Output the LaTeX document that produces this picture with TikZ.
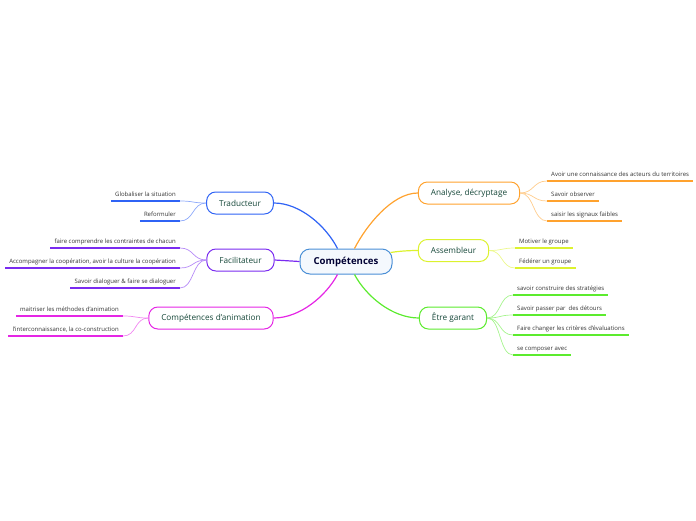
\documentclass[tikz,border=0pt]{standalone}
\usepackage{fontspec}
\setmainfont{Open Sans}
\usetikzlibrary{positioning}

\definecolor{trad}{HTML}{2F63F5}
\definecolor{faci}{HTML}{7A2BF0}
\definecolor{anim}{HTML}{E526E5}
\definecolor{anal}{HTML}{FFA22E}
\definecolor{asse}{HTML}{DCF22E}
\definecolor{gara}{HTML}{5CEB2E}
\definecolor{topic}{HTML}{4A8FD6}
\definecolor{subtxt}{HTML}{17483A}
\definecolor{leaftxt}{HTML}{333333}

\begin{document}
\begin{tikzpicture}[x=1pt, y=-1pt,
    centre/.style={draw=topic, line width=1pt, rounded corners=10pt, fill=topic!6,
      minimum width=92pt, minimum height=25pt, font=\fontsize{9.6}{10}\selectfont\bfseries, text=blue!20!black},
    sub/.style={draw=#1, line width=1pt, rounded corners=9pt, fill=white,
      minimum height=22pt, inner xsep=12.5pt, font=\fontsize{8.2}{9}\selectfont, text=subtxt},
    leaf/.style={inner xsep=4pt, inner ysep=3pt, text height=4.4pt, text depth=1.4pt,
      font=\fontsize{6}{7}\selectfont, text=leaftxt},
    uline/.style={draw=#1, line width=1.6pt},
    branch/.style={draw=#1, line width=1.2pt},
    twig/.style={draw=#1!55, line width=0.7pt}]
    \useasboundingbox (0,0) rectangle (696,520);

    % centre
    \node[centre] (comp) at (346,261.5) {Compétences};

    % branches gauche
    \node[sub=trad] (trad) at (240,203) {Traducteur};
    \node[sub=faci] (faci) at (240.5,260) {Facilitateur};
    \node[sub=anim] (anim) at (211,318) {Compétences d'animation};

    % branches droite
    \node[sub=anal] (anal) at (469,193) {Analyse, décryptage};
    \node[sub=asse] (asse) at (453.5,250.5) {Assembleur};
    \node[sub=gara] (gara) at (453,318) {Être garant};

    % feuilles Traducteur
    \node[leaf, anchor=south east] (t1) at (180,201) {Globaliser la situation};
    \node[leaf, anchor=south east] (t2) at (180,221) {Reformuler};
    % feuilles Facilitateur
    \node[leaf, anchor=south east] (f1) at (180,248) {faire comprendre les contraintes de chacun};
    \node[leaf, anchor=south east] (f2) at (180,268) {Accompagner la coopération, avoir la culture la coopération};
    \node[leaf, anchor=south east] (f3) at (180,288) {Savoir dialoguer \& faire se dialoguer};
    % feuilles animation
    \node[leaf, anchor=south east] (a1) at (123,316) {maitriser les méthodes d'animation};
    \node[leaf, anchor=south east] (a2) at (123,336) {l'interconnaissance, la co-construction};

    % feuilles Analyse
    \node[leaf, anchor=south west] (n1) at (547,181) {Avoir une connaissance des acteurs du territoires};
    \node[leaf, anchor=south west] (n2) at (547,201) {Savoir observer};
    \node[leaf, anchor=south west] (n3) at (547,221) {saisir les signaux faibles};
    % feuilles Assembleur
    \node[leaf, anchor=south west] (s1) at (515,248) {Motiver le groupe};
    \node[leaf, anchor=south west] (s2) at (515,268) {Fédérer un groupe};
    % feuilles Etre garant
    \node[leaf, anchor=south west] (g1) at (513,295) {savoir construire des stratégies};
    \node[leaf, anchor=south west] (g2) at (513,315) {Savoir passer par~ des détours};
    \node[leaf, anchor=south west] (g3) at (513,335) {Faire changer les critères d'évaluations};
    \node[leaf, anchor=south west] (g4) at (513,355) {se composer avec};

    % soulignements
    \foreach \n/\c in {t1/trad,t2/trad,f1/faci,f2/faci,f3/faci,a1/anim,a2/anim,
        n1/anal,n2/anal,n3/anal,s1/asse,s2/asse,g1/gara,g2/gara,g3/gara,g4/gara}
      \draw[uline=\c] (\n.south west) -- (\n.south east);

    % branches principales
    \draw[branch=trad] (comp.north west) ++(38,0) coordinate (ct)
      .. controls (326,226) and (300,203) .. (trad.east);
    \draw[branch=faci] (comp.west) -- (faci.east);
    \draw[branch=anim] (comp.south west) ++(38,0) coordinate (ca)
      .. controls (326,296) and (300,318) .. (anim.east);
    \draw[branch=anal] (comp.north east) ++(-38,0) coordinate (cn)
      .. controls (366,226) and (392,193) .. (anal.west);
    \draw[branch=asse] (comp.east) ++(-2,-9) coordinate (cs)
      .. controls (400,251) and (410,250.5) .. (asse.west);
    \draw[branch=gara] (comp.south east) ++(-38,0) coordinate (cg)
      .. controls (366,296) and (392,318) .. (gara.west);

    % rameaux
    \foreach \n in {t1,t2}
      \draw[twig=trad] (trad.west) .. controls +(-14,0) and +(14,0) .. (\n.south east);
    \foreach \n in {f1,f2,f3}
      \draw[twig=faci] (faci.west) .. controls +(-14,0) and +(14,0) .. (\n.south east);
    \foreach \n in {a1,a2}
      \draw[twig=anim] (anim.west) .. controls +(-14,0) and +(14,0) .. (\n.south east);
    \foreach \n in {n1,n2,n3}
      \draw[twig=anal] (anal.east) .. controls +(14,0) and +(-14,0) .. (\n.south west);
    \foreach \n in {s1,s2}
      \draw[twig=asse] (asse.east) .. controls +(14,0) and +(-14,0) .. (\n.south west);
    \foreach \n in {g1,g2,g3,g4}
      \draw[twig=gara] (gara.east) .. controls +(14,0) and +(-14,0) .. (\n.south west);
\end{tikzpicture}
\end{document}
